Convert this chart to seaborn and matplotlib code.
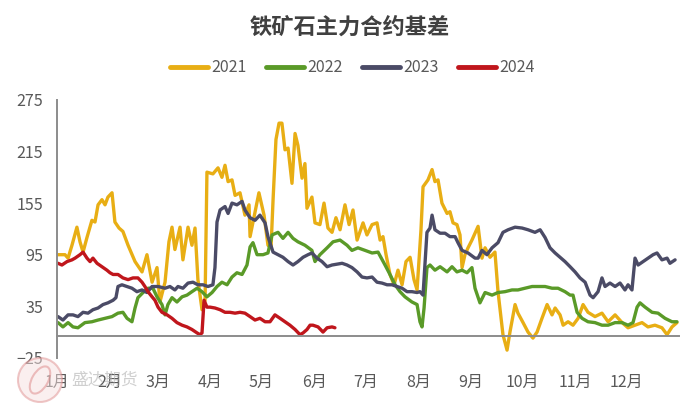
import numpy as np
import pandas as pd
import matplotlib
matplotlib.use("Agg")
import matplotlib.pyplot as plt
import seaborn as sns
from matplotlib.lines import Line2D
from matplotlib.patches import Circle, Ellipse

# ---------------- data (day of year, basis value) ----------------
d2021 = [0.6, 4.7, 6.5, 8.8, 11.7, 13.5, 15.3, 17.6, 20.5, 22.3, 24.1, 26.4, 28.2, 29.9, 32.3, 34.0,
         36.4, 38.7, 41.7, 45.8, 49.9, 52.8, 55.8, 58.7, 60.4, 63.4, 65.7, 67.5, 69.2, 72.2, 73.9,
         76.9, 79.2, 81.0, 82.7, 85.1, 86.9, 88.0, 91.5, 94.5, 96.8, 98.6, 100.4, 102.7, 104.5, 107.4,
         110.3, 112.7, 113.3, 118.5, 121.5, 123.8, 125.6, 126.8, 128.5, 130.3, 132.0, 133.8, 135.6,
         137.9, 139.7, 141.4, 143.8, 145.5, 146.7, 149.6, 151.4, 154.3, 156.7, 159.0, 161.4, 163.7,
         166.1, 169.0, 171.4, 173.7, 176.1, 179.6, 181.9, 184.9, 187.8, 189.6, 191.3, 193.1, 195.4,
         197.8, 200.1, 202.5, 204.8, 207.2, 209.5, 211.3, 213.6, 214.8, 217.7, 220.1, 221.8, 223.6,
         225.9, 228.9, 230.6, 232.4, 234.7, 236.5, 237.7, 239.4, 241.2, 243.5, 245.3, 247.1, 249.4,
         251.2, 254.1, 257.0, 258.8, 261.7, 264.1, 265.8, 268.8, 270.5, 273.5, 276.4, 279.3, 281.7,
         284.6, 287.6, 290.5, 292.3, 295.2, 297.0, 299.9, 302.8, 305.8, 308.7, 311.6, 315.7, 319.8,
         323.4, 327.5, 331.6, 335.1, 339.2, 343.3, 346.8, 350.9, 355.0, 358.0, 360.9, 363.8]
v2021 = [95, 95, 91, 106, 127, 110, 98, 115, 135, 133, 153, 159, 153, 162, 167, 133,
         126, 122, 106, 87, 75, 95, 63, 80, 40, 63, 110, 127, 101, 127, 89,
         127, 106, 126, 66, 31, 42, 191, 189, 196, 185, 199, 180, 182, 164, 167,
         141, 153, 116, 167, 141, 106, 103, 159, 229, 248, 248, 217, 219,
         178, 236, 222, 184, 201, 149, 162, 132, 130, 155, 126, 121, 138,
         124, 153, 130, 147, 112, 132, 118, 130, 132, 112, 116, 95, 72,
         60, 77, 60, 87, 92, 66, 54, 124, 174, 182, 194, 180, 182,
         155, 143, 145, 132, 130, 118, 80, 95, 103, 112, 120, 128, 91,
         103, 92, 98, 52, 2, -16, 5, 37, 27, 16, 5, -2, 5,
         21, 37, 25, 33, 25, 13, 17, 13, 21, 37, 28, 23, 27,
         17, 25, 16, 10, 13, 16, 11, 13, 10, 2, 11, 16]

d2022 = [0.6, 3.5, 6.5, 9.4, 12.3, 16.4, 20.5, 24.1, 28.2, 32.3, 35.8, 38.7, 41.1, 44.0, 45.8, 47.5,
         50.5, 53.4, 56.3, 58.7, 61.6, 63.4, 65.1, 67.5, 70.4, 73.4, 76.3, 79.2, 82.2, 85.1, 88.0,
         91.0, 93.9, 96.8, 99.8, 102.7, 105.6, 108.6, 111.5, 113.3, 115.0, 117.4, 120.9, 123.8, 126.2,
         129.7, 132.6, 135.6, 138.5, 141.4, 145.5, 149.6, 151.4, 154.3, 158.5, 162.0, 166.1, 170.2,
         173.1, 176.6, 180.8, 184.9, 188.4, 192.5, 195.4, 198.4, 201.3, 204.2, 208.3, 211.3, 213.0,
         214.2, 215.4, 217.1, 218.9, 221.8, 224.8, 228.9, 231.8, 234.7, 237.7, 240.6, 243.5, 245.3,
         248.2, 251.2, 255.3, 258.8, 262.9, 267.0, 270.5, 274.6, 278.8, 282.3, 286.4, 290.5, 294.0,
         298.1, 301.1, 302.8, 305.2, 308.1, 311.6, 315.7, 319.8, 323.4, 327.5, 331.6, 335.1, 338.0,
         340.4, 342.1, 345.1, 349.2, 352.7, 356.8, 360.9, 363.8]
v2022 = [16, 11, 16, 11, 10, 16, 17, 19, 21, 23, 27, 28, 21, 17, 33, 45,
         51, 56, 56, 46, 37, 25, 37, 45, 40, 46, 48, 52, 56, 52, 46,
         51, 58, 63, 60, 69, 74, 72, 83, 104, 109, 95, 95, 97, 118,
         121, 114, 121, 114, 110, 106, 100, 87, 95, 103, 110, 112, 106,
         100, 103, 100, 97, 98, 83, 72, 60, 52, 46, 40, 37, 17,
         11, 33, 80, 83, 77, 81, 75, 81, 75, 77, 74, 80, 56,
         39, 51, 48, 51, 52, 54, 54, 56, 58, 58, 58, 56, 56,
         52, 48, 48, 28, 21, 17, 16, 13, 13, 16, 16, 13, 16,
         34, 39, 34, 28, 27, 21, 17, 17]

d2023 = [0.6, 3.5, 6.5, 9.4, 12.3, 15.3, 18.2, 21.1, 24.1, 27.0, 29.9, 32.9, 34.6, 35.8, 38.1, 41.1,
         44.0, 46.9, 49.9, 52.8, 55.8, 59.3, 63.4, 66.3, 69.2, 71.0, 73.9, 76.9, 79.8, 82.7, 85.7,
         88.6, 91.5, 92.7, 93.9, 95.7, 98.6, 100.4, 102.7, 105.6, 108.6, 110.3, 113.3, 116.2, 119.1,
         122.1, 123.8, 126.8, 129.7, 132.6, 135.6, 138.5, 141.4, 144.4, 147.3, 149.6, 152.6, 155.5,
         158.5, 161.4, 164.3, 167.3, 170.2, 173.1, 176.1, 179.0, 181.9, 184.9, 187.8, 190.7, 193.7,
         196.6, 199.5, 202.5, 205.4, 208.3, 211.3, 213.0, 214.8, 217.1, 218.9, 220.1, 221.8, 224.8,
         227.7, 230.6, 233.6, 235.3, 237.7, 241.2, 245.3, 247.1, 249.4, 252.3, 255.3, 258.8, 261.7,
         264.7, 268.8, 272.9, 276.4, 280.5, 283.5, 286.4, 289.3, 292.3, 295.2, 298.1, 301.1, 304.0,
         306.9, 309.9, 312.8, 314.6, 317.5, 319.8, 321.6, 324.5, 327.5, 330.4, 333.3, 335.1, 337.4,
         339.2, 341.0, 343.9, 346.8, 349.8, 352.1, 355.0, 358.0, 359.7, 362.7]
v2023 = [23, 19, 25, 25, 23, 28, 27, 31, 33, 37, 39, 42, 45, 58, 60, 58,
         56, 52, 54, 51, 58, 58, 56, 58, 54, 58, 56, 62, 63, 60, 60,
         58, 60, 80, 133, 147, 151, 143, 155, 153, 157, 147, 138, 135, 141,
         132, 116, 98, 95, 92, 87, 83, 87, 92, 95, 97, 91, 87,
         81, 83, 84, 85, 83, 80, 75, 69, 68, 69, 63, 62, 60,
         60, 58, 56, 52, 52, 51, 52, 48, 121, 126, 141, 124, 120,
         120, 116, 116, 109, 100, 97, 91, 91, 100, 95, 103, 109, 121,
         124, 127, 126, 124, 121, 124, 115, 103, 97, 92, 87, 81, 75,
         68, 63, 48, 45, 52, 68, 58, 62, 58, 62, 54, 60, 54,
         91, 83, 87, 91, 95, 97, 89, 91, 85, 89]

d2024 = [0.6, 2.9, 5.9, 8.8, 10.6, 13.5, 15.3, 17.6, 19.4, 21.1, 23.5, 26.4, 29.3, 31.1, 32.9, 35.8,
         38.7, 41.7, 44.6, 47.5, 49.9, 51.6, 53.4, 55.8, 57.5, 59.3, 61.6, 64.6, 67.5, 70.4, 73.4,
         76.3, 79.2, 82.2, 83.9, 85.1, 86.3, 88.0, 89.8, 92.7, 95.7, 98.6, 101.5, 104.5, 107.4, 110.3,
         113.3, 116.2, 119.1, 122.1, 125.0, 127.9, 130.9, 133.8, 136.7, 139.7, 142.6, 144.4, 146.7,
         148.5, 150.2, 153.2, 156.1, 158.5, 161.4, 163.1]
v2024 = [85, 83, 87, 89, 91, 95, 98, 91, 87, 91, 85, 81, 77, 74, 72, 72,
         68, 66, 68, 68, 63, 58, 52, 46, 42, 34, 28, 25, 21, 16, 13,
         11, 8, 4, 2, 4, 42, 34, 34, 33, 31, 28, 28, 27, 28, 27,
         23, 19, 21, 17, 17, 25, 21, 17, 13, 8, 2, 4, 8,
         13, 13, 11, 5, 10, 11, 10]

years = ["2021", "2022", "2023", "2024"]
colors = ["#E8AE14", "#5A9A28", "#4B4B66", "#C0161C"]
month_days = [0, 31, 59, 90, 120, 151, 181, 212, 243, 273, 304, 334, 365]
month_labels = ["1月", "2月", "3月", "4月", "5月", "6月", "7月", "8月", "9月", "10月", "11月", "12月", ""]
y_ticks = [-25, 35, 95, 155, 215, 275]

frames = []
for yr, d, v in zip(years, [d2021, d2022, d2023, d2024], [v2021, v2022, v2023, v2024]):
    frames.append(pd.DataFrame({"day": d, "basis": v, "year": yr}))
df = pd.concat(frames, ignore_index=True)

# ---------------- style ----------------
sns.set_theme(style="white")
plt.rcParams["font.family"] = ["Noto Sans CJK SC", "DejaVu Sans"]
plt.rcParams["axes.unicode_minus"] = True

fig = plt.figure(figsize=(7.0, 4.03), dpi=100)
ax = fig.add_axes([0.0814, 0.112, 0.8886, 0.640])

sns.lineplot(data=df, x="day", y="basis", hue="year", palette=dict(zip(years, colors)),
             estimator=None, sort=False, linewidth=2.4, legend=False, ax=ax)

ax.set_xlim(0, 365)
ax.set_ylim(-25, 275)
ax.set_xlabel("")
ax.set_ylabel("")

gray = "#8C8C8C"
ax.spines["top"].set_visible(False)
ax.spines["right"].set_visible(False)
ax.spines["left"].set_color(gray)
ax.spines["left"].set_linewidth(1.4)
ax.spines["bottom"].set_color(gray)
ax.spines["bottom"].set_linewidth(1.4)
ax.spines["bottom"].set_position(("data", 0))

ax.set_xticks(month_days)
ax.set_xticklabels(month_labels)
ax.tick_params(axis="x", direction="in", length=4, width=1.2, color=gray,
               labelsize=11.5, labelcolor="#595959", pad=27)
ax.set_yticks(y_ticks)
ax.tick_params(axis="y", length=0, labelsize=11.5, labelcolor="#595959", pad=10)

# title
fig.text(0.5, 0.933, "铁矿石主力合约基差", ha="center", va="center",
         fontsize=16, fontweight="bold", color="#404040")

# legend
handles = [Line2D([0], [0], color=c, lw=3.5) for c in colors]
leg = fig.legend(handles, years, loc="center", bbox_to_anchor=(0.503, 0.832), ncol=4,
                 frameon=False, fontsize=11.5, handlelength=2.4, handletextpad=0.2,
                 columnspacing=1.2)
for t in leg.get_texts():
    t.set_color("#595959")

# watermark logo (faint)
cx, cy = 40 / 100, (403 - 380) / 100
fig.patches.append(Circle((cx, cy), 0.22, transform=fig.dpi_scale_trans,
                          facecolor="#F6E0E0", edgecolor="#E09090", lw=1.5, alpha=0.5))
fig.patches.append(Ellipse((cx, cy), 0.16, 0.30, angle=-30, transform=fig.dpi_scale_trans,
                           facecolor="none", edgecolor="#E09090", lw=1.5, alpha=0.55))
fig.text(105 / 700, 1 - 380 / 403, "盛达期货", ha="center", va="center",
         fontsize=12, color="#B0B0B0", alpha=0.6)

fig.savefig("out.png", dpi=100)
